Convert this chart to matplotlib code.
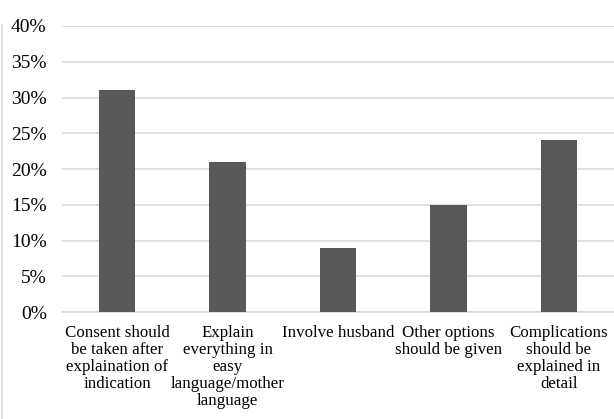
import matplotlib
matplotlib.use('Agg')
import matplotlib.pyplot as plt
import numpy as np

categories = [
    'Consent should\nbe taken after\nexplaination of\nindication',
    'Explain\neverything in\neasy\nlanguage/mother\nlanguage',
    'Involve husband',
    'Other options\nshould be given',
    'Complications\nshould be\nexplained in\ndetail',
]
values = [31, 21, 9, 15, 24]
yticks = [0, 5, 10, 15, 20, 25, 30, 35, 40]

plt.rcParams['font.family'] = ['Liberation Serif', 'DejaVu Serif']

fig = plt.figure(figsize=(6.14, 4.19), dpi=100)
ax = fig.add_axes([0.101, 0.255, 0.899, 0.683])
# thin frame line at the left edge
fig.add_artist(plt.Line2D([0.004, 0.004], [0, 0.94], transform=fig.transFigure,
                          color='#d9d9d9', linewidth=1.2))

x = np.arange(len(categories))
ax.bar(x, values, width=0.33, color='#595959', zorder=3)
ax.set_xlim(-0.5, len(categories) - 0.5)
ax.set_ylim(0, 40)
ax.set_yticks(yticks)
ax.set_yticklabels([str(v) + '%' for v in yticks], fontsize=14)
ax.set_xticks(x)
ax.set_xticklabels(categories, fontsize=12.2, linespacing=1.1, va='top')
ax.yaxis.grid(True, color='#d9d9d9', linewidth=1.2, zorder=0)
for s in ['top', 'right', 'left']:
    ax.spines[s].set_visible(False)
ax.spines['bottom'].set_color('#d9d9d9')
ax.spines['bottom'].set_linewidth(1.2)
ax.tick_params(axis='both', length=0, colors='black')
ax.tick_params(axis='y', pad=11)
ax.tick_params(axis='x', pad=9)

plt.savefig('out.png', dpi=100)
